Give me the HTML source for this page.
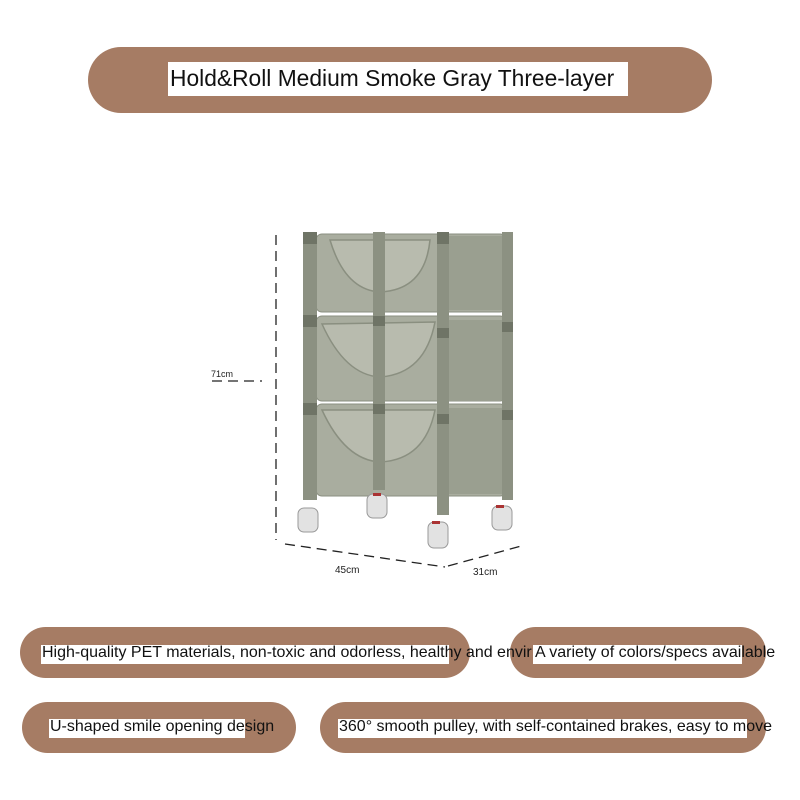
<!DOCTYPE html>
<html><head><style>
html,body{margin:0;padding:0;background:#fff;width:800px;height:800px;overflow:hidden;position:relative;font-family:"Liberation Sans",sans-serif}
.pill{position:absolute;background:#a67c64;border-radius:40px}
.wb{position:absolute;background:#fff}
.t{position:absolute;white-space:nowrap;color:#111;font-size:16px;line-height:18px}
</style></head><body>
<div class="pill" style="left:88px;top:47px;width:624px;height:66px;border-radius:33px"></div>
<div class="wb" style="left:168px;top:62px;width:460px;height:34px"></div>
<div class="t" style="left:170px;top:65px;font-size:22.8px;line-height:26px">Hold&amp;Roll Medium Smoke Gray Three-layer</div>

<div class="pill" style="left:20px;top:627px;width:450px;height:51px;border-radius:26px"></div>
<div class="pill" style="left:510px;top:627px;width:256px;height:51px;border-radius:26px"></div>
<div class="pill" style="left:22px;top:702px;width:274px;height:51px;border-radius:26px"></div>
<div class="pill" style="left:320px;top:702px;width:446px;height:51px;border-radius:26px"></div>

<div class="wb" style="left:41px;top:645px;width:408px;height:19px"></div>
<div class="wb" style="left:533px;top:645px;width:209px;height:19px"></div>
<div class="wb" style="left:49px;top:719px;width:196px;height:19px"></div>
<div class="wb" style="left:338px;top:719px;width:409px;height:19px"></div>

<div class="t" style="left:42px;top:644px">High-quality PET materials, non-toxic and odorless, healthy and envir</div>
<div class="t" style="left:535px;top:644px">A variety of colors/specs available</div>
<div class="t" style="left:50px;top:718px">U-shaped smile opening design</div>
<div class="t" style="left:339px;top:718px">360° smooth pulley, with self-contained brakes, easy to move</div>

<svg width="800" height="800" style="position:absolute;left:0;top:0">
<g stroke="#222" stroke-width="1.3" fill="none" stroke-dasharray="10,6">
<line x1="276" y1="235" x2="276" y2="540"/>
<line x1="285" y1="544" x2="445" y2="567"/>
<line x1="448" y1="566" x2="525" y2="545"/>
<line x1="212" y1="381" x2="262" y2="381"/>
</g>
<text x="211" y="377" font-size="9" font-family="Liberation Sans" fill="#222">71cm</text>
<text x="335" y="573" font-size="10" font-family="Liberation Sans" fill="#222">45cm</text>
<text x="473" y="575" font-size="10" font-family="Liberation Sans" fill="#222">31cm</text>
<g fill="#a9ad9f" stroke="#8a8f80" stroke-width="1">
<rect x="316" y="234" width="190" height="78" rx="6"/>
<rect x="316" y="316" width="190" height="85" rx="6"/>
<rect x="316" y="404" width="190" height="92" rx="6"/>
</g>
<g fill="#b8bbae" stroke="#8a8f80" stroke-width="1.5">
<path d="M330 240 Q345 290 380 292 Q425 290 430 240 Z"/>
<path d="M322 324 Q345 375 380 377 Q425 374 435 322 Z"/>
<path d="M322 410 Q345 460 380 462 Q425 460 435 410 Z"/>
</g>
<g fill="#9a9f90">
<rect x="449" y="236" width="54" height="74"/>
<rect x="449" y="320" width="54" height="80"/>
<rect x="449" y="408" width="54" height="86"/>
</g>
<g fill="#8c9182">
<rect x="303" y="232" width="14" height="268"/>
<rect x="373" y="232" width="12" height="258"/>
<rect x="437" y="232" width="12" height="283"/>
<rect x="502" y="232" width="11" height="268"/>
</g>
<g fill="#6f7466">
<rect x="303" y="315" width="14" height="12"/><rect x="303" y="403" width="14" height="12"/>
<rect x="373" y="316" width="12" height="10"/><rect x="373" y="404" width="12" height="10"/>
<rect x="437" y="328" width="12" height="10"/><rect x="437" y="414" width="12" height="10"/>
<rect x="502" y="322" width="11" height="10"/><rect x="502" y="410" width="11" height="10"/>
<rect x="303" y="232" width="14" height="12"/><rect x="437" y="232" width="12" height="12"/>
</g>
<g fill="#e2e2e2" stroke="#999" stroke-width="1">
<rect x="298" y="508" width="20" height="24" rx="6"/>
<rect x="367" y="494" width="20" height="24" rx="6"/>
<rect x="428" y="522" width="20" height="26" rx="6"/>
<rect x="492" y="506" width="20" height="24" rx="6"/>
</g>
<g fill="#a33">
<rect x="373" y="493" width="8" height="3"/><rect x="432" y="521" width="8" height="3"/><rect x="496" y="505" width="8" height="3"/>
</g>
</svg>
</body></html>
